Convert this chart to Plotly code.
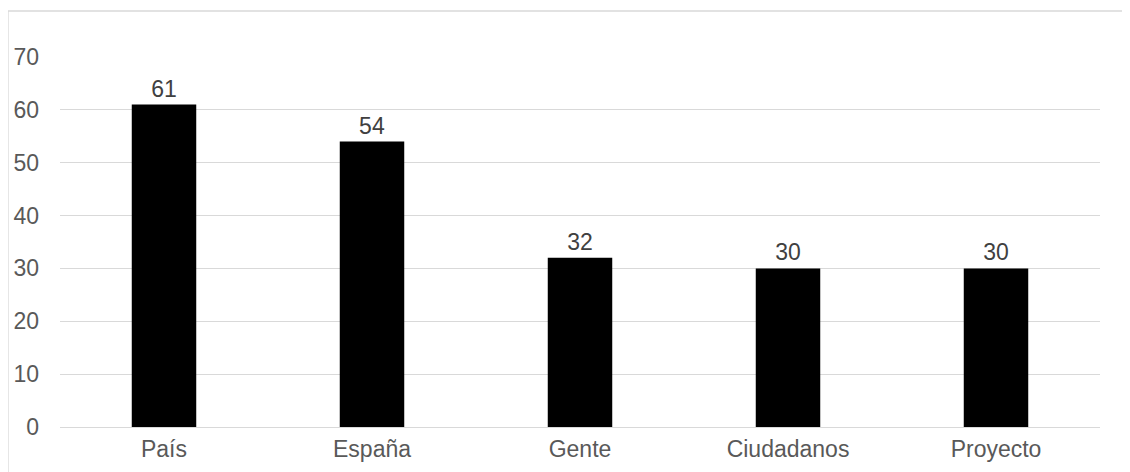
import plotly.graph_objects as go

categories = ["País", "España", "Gente", "Ciudadanos", "Proyecto"]
values = [61, 54, 32, 30, 30]
y_ticks = [0, 10, 20, 30, 40, 50, 60, 70]

FONT = "Liberation Sans, Arial, Helvetica"

fig = go.Figure(go.Bar(
    x=categories, y=values,
    marker=dict(color="#000000", line=dict(width=0)),
    text=[str(v) for v in values], textposition="outside",
    textfont=dict(family=FONT, size=23, color="#404040"),
    cliponaxis=False,
))

fig.update_layout(
    width=1130, height=472,
    margin=dict(l=52, r=38, t=49, b=53),
    paper_bgcolor="white", plot_bgcolor="white",
    bargap=0.69, showlegend=False,
    font=dict(family=FONT, size=23, color="#595959"),
    xaxis=dict(showgrid=False, showline=False, ticks="", ticklabelstandoff=6, automargin=False,
               tickfont=dict(size=23, color="#595959")),
    yaxis=dict(range=[0, 70], tickvals=y_ticks, showgrid=True, gridcolor="#d9d9d9", gridwidth=1.3,
               zeroline=True, zerolinecolor="#d9d9d9", zerolinewidth=1.3,
               showline=False, ticks="", ticklabelstandoff=20, automargin=False,
               tickfont=dict(size=23, color="#595959")),
    shapes=[dict(type="rect", xref="paper", yref="paper",
                 x0=-0.05, x1=1.2, y0=-0.5, y1=1.1243,
                 line=dict(color="#d9d9d9", width=1.3), fillcolor="rgba(0,0,0,0)", layer="below")],
)

fig.write_html("out.html")
